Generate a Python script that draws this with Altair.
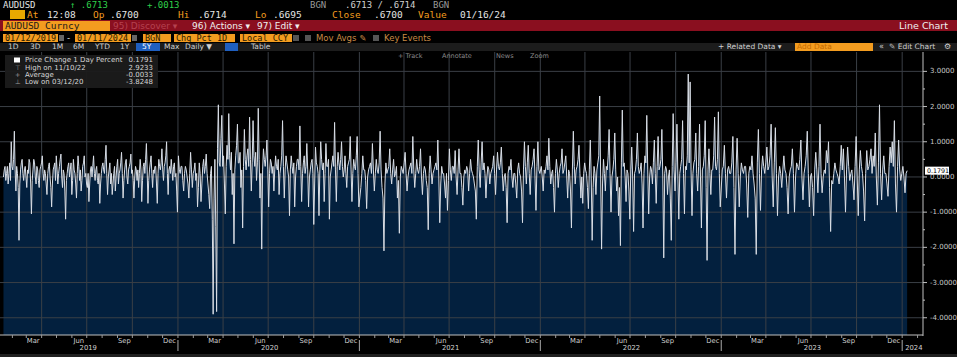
import altair as alt
import pandas as pd

# ---------------- data (daily % change, AUDUSD) ----------------
vals_2019 = [0.0, 0.2, 0.3, -0.1, 0.1, 0.3, -0.2, 0.1, 0.4, -0.1, 1.0, 0.3, 0.2, 0.5, 1.3, 0.2,
             -0.4, 0.3, 0.1, -0.3, -1.8, -0.2, 0.2, 0.4, 0.5, 0.1, -0.1, 0.2, 0.3, 0.0, -0.3, 0.2,
             0.1, 0.5, 0.4, -0.2, -1.05, -0.1, 0.2, 0.5, 0.4, 0.0, -0.2, 0.3, 0.2, -0.1, -0.3,
             0.2, 0.3, 0.4, 0.6, 0.1, -0.1, 0.2, 0.1, -0.2, -0.5, 0.1, 0.3, 0.4, 0.0, -0.3, -0.85,
             -0.2, 0.2, 0.3, 0.4, -0.1, 0.6, 0.2, -0.2, 0.1, 0.3, 0.5, 0.65, 0.0, -0.3, 0.2, 0.1,
             -0.4, -1.2, -0.1, 0.1, 0.3, 0.4, 0.0, 0.2, 0.4, -0.5, -0.1, 0.5, 0.2, 0.1, -0.2,
             -0.6, 0.1, 0.6, 0.3, -0.1, 0.2, -0.4, -0.1, 0.3, 0.4, 0.6, 0.0, 0.1, -0.2, -0.3, 0.1,
             -0.7, -0.2, 0.2, 0.3, 0.0, 0.3, 0.6, 0.1, -0.1, 0.2, 0.3, -0.1, -0.2, 0.1, -0.75,
             -0.2, 0.1, 0.3, 0.4, 0.2, 0.1, 0.5, 0.9, 0.1, -0.5, 0.0, 0.2, 0.4, -0.2, 0.1, -0.5,
             -0.2, 0.1, 0.3, -0.4, 0.0, 0.3, 0.5, -0.2, 0.1, 0.2, 0.4, 0.7, 0.1, -0.6, -0.1, 0.2,
             0.4, 0.5, 0.0, -0.2, 0.2, 0.3, 0.4, 0.65, 0.1, 0.2, -0.1, -0.6, 0.0, 0.3, 0.2, -0.1,
             0.2, -0.3, 0.1, 0.5, 0.2, -0.7, -0.1, 0.3, 0.4, 0.1, 0.5, 0.95, 0.2, -0.75, -0.1,
             0.2, 0.4, 0.6, 0.1, -0.3, 0.2, 0.1, 0.3, 0.3, -0.2, -0.75, 0.1, 0.5, 0.3, 0.2, 0.4,
             0.8, 0.2, -0.1, 0.3, 0.4, 0.6, 1.0, 0.1, -0.5, 0.2, 0.3, 0.1, 0.5, 0.2, -0.1, 0.3,
             0.4, 0.0, 0.1, -0.4, -1.0]
vals_2020 = [0.6, 0.2, 0.1, 0.3, 0.3, -0.1, -0.4, 0.1, 0.3, 0.2, 0.0, -0.2, -0.6, 0.1, 0.7, 0.2,
             -0.3, 0.1, 0.2, 0.4, -0.1, 0.1, -0.85, -0.3, 0.4, 0.1, -0.7, -0.2, 0.3, 0.5, 0.1,
             0.3, 0.65, 0.1, -0.2, -0.5, -0.9, 0.1, 0.3, -1.2, -3.9, -0.6, 0.5, -1.4, -3.8248,
             0.8, 2.05, 0.4, 0.3, 1.1, 1.75, 0.3, 0.6, -0.2, -1.05, 0.3, 0.9, 0.5, 1.8, 0.6, 0.2,
             0.7, -0.5, 0.1, -1.9, 0.2, 0.6, 0.9, 1.5, 0.4, 0.4, 0.7, -0.3, 0.2, -1.45, 0.3, 1.35,
             0.5, 0.2, 0.6, 0.8, 0.3, 1.7, 0.5, -0.4, 0.4, 1.6, 0.6, 0.3, 0.7, -0.1, 0.4, 1.95,
             0.5, -0.6, 0.1, -2.05, 0.2, 0.8, 0.5, 0.3, 0.6, 1.05, 0.2, -0.85, 0.1, 0.5, 0.4, 0.1,
             0.3, -0.4, 0.2, 0.6, 0.3, 0.2, 0.5, -0.5, 0.1, 0.3, 0.6, 1.6, 0.3, -0.6, 0.2, 0.6,
             0.4, 0.2, 0.0, -1.1, 0.2, 0.6, 0.3, 0.1, 0.4, -0.85, 0.0, 0.3, 0.5, 0.5, 0.2, 1.45,
             0.3, -0.7, 0.1, 0.4, 0.6, 0.1, 0.3, 0.95, 0.2, -0.85, 0.0, 0.2, 0.4, 0.5, 0.1, -1.35,
             -0.2, 0.85, 0.4, 0.3, 0.1, -1.1, 0.2, 1.0, 0.5, 0.2, 0.4, -0.7, 0.1, 0.95, 0.3, 0.3,
             0.5, -1.2, 0.0, 0.2, 0.4, 0.6, 0.3, 1.55, 0.2, -0.7, 0.3, 0.7, 0.4, 0.2, 0.5, 1.0,
             0.3, 0.0, 0.2, 0.6, 0.1, -0.3, 0.3, 0.4, 0.5, 1.15, 0.2, -0.7, 0.1, 0.5, 0.3, 0.2,
             0.6, 1.15, 0.1, -0.85]
vals_2021 = [-0.3, 0.1, 0.6, 0.2, 0.2, -0.1, -0.9, 0.0, 0.2, 0.3, 0.4, 0.1, 0.95, 0.2, -0.4, 0.1,
             0.5, 0.2, 0.1, 0.4, 1.3, 0.2, -0.3, -0.6, -2.1, -0.2, 0.4, 0.1, 0.2, 0.3, 0.8, 0.1,
             -0.2, 0.2, 0.5, 0.0, 0.1, 0.3, -0.6, -0.1, -1.6, 0.0, 0.3, 0.2, 0.1, 0.4, 0.7, 0.1,
             -0.4, 0.0, 0.2, 0.3, 0.4, 0.1, 1.15, 0.2, -0.3, 0.1, 0.5, 0.2, 0.1, 0.3, 0.8, 0.0,
             -0.5, 0.1, 0.3, 0.2, -0.1, -0.3, -1.5, 0.1, 0.6, 0.2, -0.2, 0.1, 0.2, 0.3, 0.4, 0.2,
             1.05, 0.0, -1.3, -0.2, 0.3, 0.1, 0.1, -0.2, -0.6, 0.1, -0.95, -0.1, 0.8, 0.2, -0.1,
             0.3, 0.3, 0.1, 0.75, 0.0, -0.5, 0.2, 0.8, 0.1, 0.1, -0.3, -0.8, 0.0, 0.2, 0.1, 0.3,
             0.2, -0.4, 0.1, 0.5, 0.2, 0.1, 0.0, -0.2, -0.4, -1.2, 0.3, 1.05, 0.2, -0.3, 0.4, 1.0,
             0.2, 0.4, 0.1, -0.6, 0.0, 0.3, 0.2, -0.2, 0.1, 0.2, 0.3, 0.6, 0.1, -0.5, 0.2, 0.7,
             0.3, 0.2, 0.4, 0.85, 0.1, -0.4, 0.0, 0.1, -0.3, -1.3, 0.1, 0.3, 0.2, 0.5, 0.0, -0.3,
             0.1, 0.1, -0.2, -0.6, 0.2, 0.4, 0.1, 0.0, -0.4, -1.3, 0.2, 1.0, 0.3, -0.2, 0.4, 0.9,
             0.1, -0.5, 0.2, 0.3, 0.5, 0.8, 0.0, -0.95, 0.3, 1.0, 0.2, 0.1]
vals_2022 = [0.3, 0.0, -0.4, 0.2, 0.1, 0.3, 0.6, 0.2, 1.1, 0.3, -0.2, 0.1, 0.2, -0.3, -1.0, 0.1,
             0.5, 0.2, -0.3, 0.1, 0.3, 0.4, 0.8, 0.1, 0.2, 0.4, 0.6, 0.0, -0.6, 0.2, 0.1, -0.4,
             -1.45, 0.2, 1.3, 0.3, -0.2, 0.2, 0.3, 0.5, 0.9, 0.1, -0.6, 0.0, -0.75, 0.1, 0.4, 0.2,
             0.1, -0.3, -0.9, 0.2, 1.05, 0.0, -1.8, -0.3, 0.3, 0.1, -0.5, 0.2, 0.4, 0.6, 2.3, 0.0,
             -2.05, -0.2, 0.5, 0.1, -0.4, 0.3, 0.2, 0.6, 1.35, 0.1, -1.0, 0.0, 0.2, 0.5, 1.25,
             0.2, -0.4, 0.0, -1.1, -0.3, -1.95, 0.4, 1.9, 0.3, 0.4, 0.0, -0.7, 0.2, 0.1, -0.4,
             -1.2, 0.2, 0.85, 0.0, -1.55, 0.1, 0.2, 0.5, 1.25, 0.3, 0.1, 0.2, 0.4, -0.2, -1.45,
             0.1, 0.6, 0.4, 1.75, 0.2, -1.05, 0.0, 0.3, 0.2, -0.2, 0.4, 1.05, 0.1, -0.75, 0.3,
             1.15, 0.2, 0.3, 0.5, 1.35, 0.0, -2.3, 0.1, 0.3, 0.2, -0.5, 0.0, 0.2, -0.6, -1.8, 0.3,
             1.8, 0.2, -0.4, 0.4, 1.5, 0.0, -1.2, 0.1, 0.3, 0.5, 1.6, 0.1, -1.05, 0.3, 0.2, 0.6,
             2.9233, 0.4, 2.7, 0.2, -1.1, 0.1, 0.4, 0.5, 1.25, 0.1, -0.4, 0.3, 1.5, 0.0, -1.45,
             0.2, 0.3, 0.6, 1.6, -0.3, -2.37, 0.2, 0.8, 0.1, -0.5, 0.2, 0.2, 0.6, 1.7, 0.3, 0.2,
             0.5, 1.85, 0.1, -0.85]
vals_2023 = [0.2, 0.3, 0.9, 0.1, -0.6, 0.2, 0.3, 0.1, 0.1, 0.4, 1.15, -0.3, -2.2, 0.2, 1.1, 0.1,
             -0.85, 0.0, 0.4, 0.2, 0.1, 0.3, 0.3, -0.2, -1.15, 0.1, 0.3, 0.2, 0.6, 0.1, -0.2,
             -0.6, -2.2, 0.4, 1.35, 0.1, -0.95, 0.2, 0.6, 0.3, 0.1, 0.4, 0.85, 0.2, 0.3, 0.6, 1.5,
             0.0, -0.85, 0.4, 1.4, 0.1, -1.1, 0.0, 0.3, 0.1, -0.3, 0.2, 0.6, 0.2, 0.1, -0.3, -1.05,
             0.0, 0.2, 0.3, 0.8, 0.1, -1.0, 0.0, 0.4, 0.3, 0.2, 0.5, 1.05, 0.0, -0.65, 0.1, 0.3,
             0.6, 1.3, 0.1, -0.85, 0.0, 0.1, -0.3, -1.1, 0.2, 0.7, 0.2, -0.45, 0.3, 1.5, 0.1,
             -0.45, 0.0, 0.2, 0.1, 0.75, 0.4, 1.0, -0.3, -1.55, -0.1, -0.2, 0.1, 0.4, 0.2, 0.1,
             0.0, -0.2, 0.3, 0.9, 0.2, 0.8, 0.0, -1.0, 0.2, 0.85, 0.3, -0.1, 0.1, 0.2, -0.2, -0.65,
             0.3, 1.15, 0.0, -1.1, 0.2, 0.75, 0.3, 0.1, -0.4, -1.25, 0.1, 0.75, 0.2, 0.3, 0.5, 0.8,
             0.1, 0.6, 0.3, 1.25, 0.0, -0.8, 0.4, 2.05, 0.1, -0.65, 0.2, 0.6, 0.1, 0.1, -0.2,
             -0.55, 0.3, 0.85, 0.4, 1.0, 0.3, 1.6, -0.2, -1.0, 0.3, 1.05, 0.2, -0.1, 0.1, 0.3,
             0.0, -0.45, 0.1, 0.1791]

segments = [
    ("2019-01-14", "2019-12-31", vals_2019),
    ("2020-01-02", "2020-12-31", vals_2020),
    ("2021-01-04", "2021-12-31", vals_2021),
    ("2022-01-03", "2022-12-30", vals_2022),
    ("2023-01-03", "2024-01-11", vals_2023),
]

y_ticks = [-4, -3, -2, -1, 0, 1, 2, 3]
y_tick_labels = ["-4.0000", "-3.0000", "-2.0000", "-1.0000", "0.0000", "1.0000", "2.0000", "3.0000"]
y_half = [-3.5, -2.5, -1.5, -0.5, 0.5, 1.5, 2.5]
years = [2019, 2020, 2021, 2022, 2023]
quarter_months = [("Mar", 3), ("Jun", 6), ("Sep", 9), ("Dec", 12)]

LAST = 0.1791
Y_MIN, Y_MAX = -4.49, 3.55

frames = []
for start, end, vals in segments:
    d = pd.date_range(start, end, periods=len(vals))
    frames.append(pd.DataFrame({"date": d.strftime("%Y-%m-%dT%H:%M:%S"), "pct": vals}))
df = pd.concat(frames, ignore_index=True)

month_starts = pd.DataFrame({"date": pd.date_range("2019-02-01", "2024-02-01", freq="MS")
                            .strftime("%Y-%m-%dT00:00:00")})
quarter_starts = pd.DataFrame({"date": pd.date_range("2019-04-01", "2024-01-01", freq="QS")
                              .strftime("%Y-%m-%dT00:00:00")})
month_lbl = pd.DataFrame([{"date": f"{y}-{m:02d}-15T00:00:00", "lbl": n}
                          for y in years for n, m in quarter_months])
year_lbl = pd.DataFrame([{"date": f"{y}-07-04T00:00:00", "lbl": str(y)} for y in years])
year_sep = pd.DataFrame({"date": [f"{y}-01-01T00:00:00" for y in [2020, 2021, 2022, 2023, 2024]]})
ytick_df = pd.DataFrame({"v": y_ticks, "lbl": y_tick_labels})

# ---------------- layout ----------------
W, H = 923, 283
TOP, RIGHT, BOTTOM = 52, 34, 22
FONT = "DejaVu Sans"
MONO = "DejaVu Sans Mono"
ORANGE = "#f39c1f"
GRID = "#3a3f46"
AXC = "#c0c0c0"

xscale = alt.Scale(domain=[alt.DateTime(year=2019, month=1, date=7),
                           alt.DateTime(year=2024, month=2, date=12)])
yscale = alt.Scale(domain=[Y_MIN, Y_MAX], nice=False, zero=False)

X = lambda: alt.X("date:T", scale=xscale, axis=None)
one = alt.Data(values=[{"k": 1}])

base = alt.Chart(df)

area = base.mark_area(color="#03203e", opacity=1).encode(
    x=X(),
    y=alt.Y("pct:Q", scale=yscale, axis=None),
    y2=alt.datum(Y_MIN),
)

hgrid = alt.Chart(ytick_df).mark_rule(color=GRID, strokeWidth=1).encode(
    y=alt.Y("v:Q", scale=yscale, axis=None), x=alt.value(0), x2=alt.value(W))

vgrid = alt.Chart(quarter_starts).mark_rule(color=GRID, strokeWidth=1).encode(
    x=X(), y=alt.value(0), y2=alt.value(H))

line = base.mark_line(color="#d9dee6", strokeWidth=1, interpolate="linear").encode(
    x=X(), y=alt.Y("pct:Q", scale=yscale, axis=None))

# right axis (drawn by hand)
ydomain = alt.Chart(one).mark_rule(color=AXC).encode(
    x=alt.value(W), y=alt.value(0), y2=alt.value(H + 1))
ymajor = alt.Chart(ytick_df).mark_rule(color=AXC).encode(
    y=alt.Y("v:Q", scale=yscale, axis=None), x=alt.value(W), x2=alt.value(W + 4))
yminor = alt.Chart(pd.DataFrame({"v": y_half})).mark_rule(color=AXC).encode(
    y=alt.Y("v:Q", scale=yscale, axis=None), x=alt.value(W), x2=alt.value(W + 2))
ylab = alt.Chart(ytick_df).mark_text(color="#c8c8c8", font=FONT, fontSize=7, align="left",
                                     baseline="middle").encode(
    y=alt.Y("v:Q", scale=yscale, axis=None), x=alt.value(W + 7), text="lbl:N")

# bottom axis (drawn by hand)
xdomain = alt.Chart(one).mark_rule(color=AXC).encode(
    x=alt.value(0), x2=alt.value(W), y=alt.value(H))
xticks = alt.Chart(month_starts).mark_rule(color="#9a9a9a").encode(
    x=X(), y=alt.value(H), y2=alt.value(H + 3))
mlabels = alt.Chart(month_lbl).mark_text(color="#cfcfcf", font=FONT, fontSize=6.8,
                                          baseline="middle").encode(
    x=X(), y=alt.value(H + 5.5), text="lbl:N")
ylabels = alt.Chart(year_lbl).mark_text(color="#cfcfcf", font=FONT, fontSize=6.8,
                                         baseline="middle").encode(
    x=X(), y=alt.value(H + 12.5), text="lbl:N")
ysep = alt.Chart(year_sep).mark_rule(color="#aaaaaa").encode(
    x=X(), y=alt.value(H + 5), y2=alt.value(H + 16))
y2024 = alt.Chart(pd.DataFrame({"date": ["2024-01-01T00:00:00"], "lbl": ["2024"]})).mark_text(
    color="#cfcfcf", font=FONT, fontSize=6.8, baseline="middle", align="left", dx=3).encode(
    x=X(), y=alt.value(H + 12.5), text="lbl:N")

last_box = alt.Chart(pd.DataFrame({"v": [LAST]})).mark_tick(
    color="#ffffff", orient="horizontal", thickness=8, size=24, opacity=1).encode(
    y=alt.Y("v:Q", scale=yscale, axis=None), x=alt.value(W + 14))
last_txt = alt.Chart(pd.DataFrame({"v": [LAST]})).mark_text(
    color="#000000", font=FONT, fontSize=6.3, align="left", baseline="middle").encode(
    y=alt.Y("v:Q", scale=yscale, axis=None), x=alt.value(W + 4),
    text=alt.Text("v:Q", format=".4f"))


# ---------------- header / decorations ----------------
def txt(s, x, y, color, size=9, align="left", font=FONT, weight="normal"):
    return alt.Chart(one).mark_text(text=s, align=align, baseline="middle", color=color,
                                    fontSize=size, font=font, fontWeight=weight).encode(
        x=alt.value(x), y=alt.value(y - TOP))


def box(x1, x2, y1, y2, color, opacity=1):
    return alt.Chart(one).mark_rect(color=color, opacity=opacity).encode(
        x=alt.value(x1), x2=alt.value(x2), y=alt.value(y1 - TOP), y2=alt.value(y2 - TOP))


WHITE = "#e4e4e4"
GREEN = "#2fcf4a"
GRAYT = "#9a9a9a"
LG = "#d6d6d6"
deco = [
    # row 1
    txt("AUDUSD", 3, 4.5, WHITE, 9, font=MONO),
    txt("↑ .6713", 70, 4.5, GREEN, 9, font=MONO),
    txt("+.0013", 147, 4.5, GREEN, 9, font=MONO),
    txt("BGN", 310, 4.5, GRAYT, 9, font=MONO),
    txt(".6713 / .6714", 345, 4.5, "#d0d0d0", 9, font=MONO),
    txt("BGN", 433, 4.5, GRAYT, 9, font=MONO),
    # row 2
    box(10, 25, 10, 19, "#e8a800"),
    txt("At", 27, 14.5, ORANGE, 9.5, font=MONO),
    txt("12:08", 47, 14.5, WHITE, 9.5, font=MONO),
    txt("Op", 93, 14.5, ORANGE, 9.5, font=MONO),
    txt(".6700", 110, 14.5, WHITE, 9.5, font=MONO),
    txt("Hi", 178, 14.5, ORANGE, 9.5, font=MONO),
    txt(".6714", 198, 14.5, WHITE, 9.5, font=MONO),
    txt("Lo", 255, 14.5, ORANGE, 9.5, font=MONO),
    txt(".6695", 273, 14.5, WHITE, 9.5, font=MONO),
    txt("Close", 332, 14.5, ORANGE, 9.5, font=MONO),
    txt(".6700", 374, 14.5, WHITE, 9.5, font=MONO),
    txt("Value", 418, 14.5, ORANGE, 9.5, font=MONO),
    txt("01/16/24", 460, 14.5, WHITE, 9.5, font=MONO),
    # row 3 red bar
    box(0, 957, 20, 31, "#8a0f1f"),
    box(3, 110, 21, 31, ORANGE),
    txt("AUDUSD Curncy", 5, 26, "#1a1a1a", 9.5, font=MONO),
    txt("95) Discover ▾", 113, 26, "#b54250", 9),
    txt("96) Actions ▾", 192, 26, "#f0f0f0", 9),
    txt("97) Edit ▾", 257, 26, "#f0f0f0", 9),
    txt("Line Chart", 948, 26, "#f0f0f0", 9.5, align="right"),
    # row 4
    box(3, 58, 34, 42, ORANGE), txt("01/12/2019", 5, 38, "#2a1a00", 8.5, font=MONO),
    box(59, 64, 35, 41, "#666666"),
    txt("-", 67, 38, WHITE, 8.5),
    box(75, 131, 34, 42, ORANGE), txt("01/11/2024", 77, 38, "#2a1a00", 8.5, font=MONO),
    box(132, 137, 35, 41, "#666666"),
    box(143, 171, 34, 42, ORANGE), txt("BGN", 145, 38, "#2a1a00", 8.5, font=MONO),
    box(174, 235, 34, 42, ORANGE), txt("Chg Pct 1D", 176, 38, "#2a1a00", 8.5, font=MONO),
    box(240, 292, 34, 42, ORANGE), txt("Local CCY", 242, 38, "#2a1a00", 8.5, font=MONO),
    box(293, 299, 35, 41, "#555555"),
    box(305, 311, 35, 41, "#555555"), txt("Mov Avgs ✎", 316, 38, "#c98a45", 8.5),
    box(373, 379, 35, 41, "#555555"), txt("Key Events", 384, 38, "#c98a45", 8.5),
    # row 5
    box(0, 957, 43, 51, "#1c1c1c"),
    box(136, 160, 43, 51, "#1f5fbf"),
    box(225, 238, 43, 51, "#1f5fbf"),
    txt("1D", 8, 47, "#cfcfcf", 7.5), txt("3D", 30, 47, "#cfcfcf", 7.5),
    txt("1M", 52, 47, "#cfcfcf", 7.5), txt("6M", 73, 47, "#cfcfcf", 7.5),
    txt("YTD", 95, 47, "#cfcfcf", 7.5), txt("1Y", 120, 47, "#cfcfcf", 7.5),
    txt("5Y", 142, 47, "#ffffff", 7.5), txt("Max", 164, 47, "#cfcfcf", 7.5),
    txt("Daily ▼", 185, 47, "#cfcfcf", 7.5), txt("Table", 251, 47, "#cfcfcf", 7.5),
    txt("+ Related Data ▾", 718, 47, "#cfcfcf", 7.5),
    box(795, 873, 43, 51, ORANGE), txt("Add Data", 797, 47, "#c46a00", 7.5),
    txt("«", 879, 47, "#cfcfcf", 8), txt("✎ Edit Chart", 889, 47, "#cfcfcf", 7.5),
    txt("⚙", 944, 47, "#cfcfcf", 8),
    # plot toolbar
    txt("+ Track", 398, 56, "#8a8a8a", 6.5), txt("Annotate", 442, 56, "#8a8a8a", 6.5),
    txt("News", 496, 56, "#8a8a8a", 6.5), txt("Zoom", 530, 56, "#8a8a8a", 6.5),
    # legend box
    box(5, 158, 55, 88, "#1b1b1b", 0.95),
    box(14, 20, 57.5, 62.5, "#ffffff"),
    txt("Price Change 1 Day Percent", 25, 60, LG, 7),
    txt("0.1791", 153, 60, LG, 7, align="right"),
    txt("⊤", 15, 67.5, GRAYT, 6.5), txt("High on 11/10/22", 25, 67.5, LG, 7),
    txt("2.9233", 153, 67.5, LG, 7, align="right"),
    txt("+", 15, 75, GRAYT, 6.5), txt("Average", 25, 75, LG, 7),
    txt("-0.0033", 153, 75, LG, 7, align="right"),
    txt("⊥", 15, 82, GRAYT, 6.5), txt("Low on 03/12/20", 25, 82, LG, 7),
    txt("-3.8248", 153, 82, LG, 7, align="right"),
    # bottom strip
    box(0, 957, 354, 357, "#202020"),
]

chart = alt.layer(
    area, hgrid, vgrid, line, ydomain, ymajor, yminor, ylab, xdomain, xticks,
    mlabels, ylabels, ysep, y2024, last_box, last_txt, *deco
).properties(
    width=W, height=H,
    autosize=alt.AutoSizeParams(type="none"),
    padding={"left": 0, "top": TOP, "right": RIGHT, "bottom": BOTTOM},
    background="#000000",
).configure_view(stroke=None, fill="#000000")

chart.save("out.html", embed_options={"renderer": "svg", "actions": False})
